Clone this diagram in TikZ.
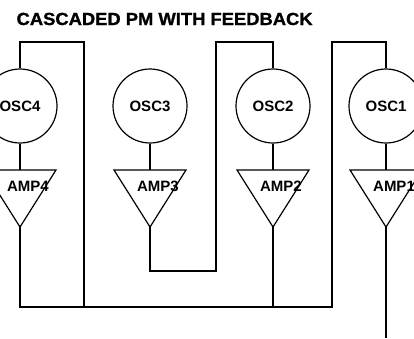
\documentclass[tikz,border=0pt]{standalone}
\usepackage{fontspec}
\setmainfont{Liberation Sans}
\newfontfamily\titlefont{Liberation Sans Bold}[FakeStretch=1.05,FakeBold=1.2]
\begin{document}
\begin{tikzpicture}[x=1pt,y=-1pt,line width=1.2pt,
  osc/.style={draw,circle,minimum size=74pt,inner sep=0pt,font=\bfseries\fontsize{15}{15}\selectfont},
  lbl/.style={inner sep=0pt,font=\bfseries\fontsize{15}{15}\selectfont},
  title/.style={inner sep=0pt,anchor=base west,font=\titlefont\fontsize{17.5}{17.5}\selectfont}]
\useasboundingbox (0,0) rectangle (414,338);
\clip (0,0) rectangle (414,338);
\node[title] (ttl) at (16,25) {CASCADED PM WITH FEEDBACK};
% oscillators
\node[osc] (osc4) at (20,106) {OSC4};
\node[osc] (osc3) at (150,106) {OSC3};
\node[osc] (osc2) at (273,106) {OSC2};
\node[osc] (osc1) at (386,106) {OSC1};
% amplifier triangles
\foreach \n/\x in {4/20,3/150,2/273,1/386}{
  \coordinate (amp\n top) at (\x,170);
  \coordinate (amp\n tip) at (\x,227);
  \draw (\x-36,170) -- (\x+36,170) -- (amp\n tip) -- cycle;
  \node[lbl] (amp\n) at (\x+8,186) {AMP\n};
  \draw (osc\n.south) -- (amp\n top);
}
% bottom joins and feedback
\coordinate (c4a) at (20,42);
\coordinate (c4b) at (84,42);
\coordinate (c4c) at (84,307);
\coordinate (b4) at (20,307);
\coordinate (b2) at (273,307);
\coordinate (b1) at (332,307);
\coordinate (c1a) at (332,42);
\coordinate (c1b) at (386,42);
\coordinate (c2a) at (273,42);
\coordinate (c2b) at (216,42);
\coordinate (c2c) at (216,271);
\coordinate (c3a) at (150,271);
\coordinate (out) at (386,338);
\draw (osc4.north) -- (c4a) -- (c4b) -- (c4c);
\draw (amp4tip) -- (b4) -- (b1) -- (c1a) -- (c1b) -- (osc1.north);
\draw (amp2tip) -- (b2);
\draw (osc2.north) -- (c2a) -- (c2b) -- (c2c) -- (c3a) -- (amp3tip);
\draw (amp1tip) -- (out);
\end{tikzpicture}
\end{document}
